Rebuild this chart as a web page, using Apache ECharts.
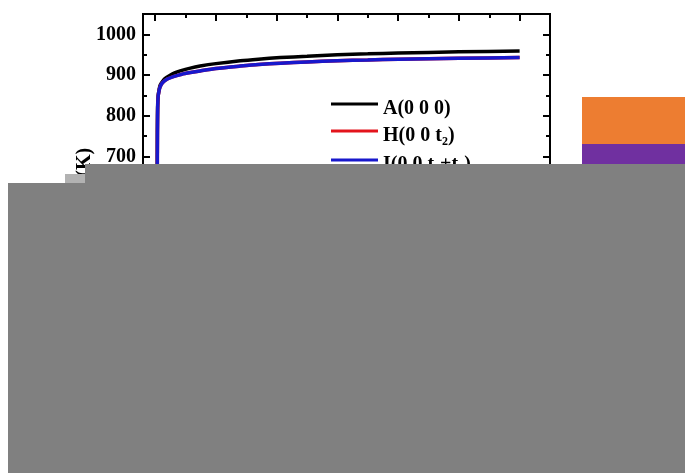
<!DOCTYPE html>
<html>
<head>
<meta charset="utf-8">
<script src="https://cdn.jsdelivr.net/npm/echarts@6/dist/echarts.min.js"></script>
<style>
  html, body { margin: 0; padding: 0; background: #fff; }
  #chart { width: 685px; height: 473px; }
</style>
</head>
<body>
<div id="chart"></div>
<script>
  // x in arbitrary units (its labels are covered in the picture), y in K
  var seriesNames = ['A(0 0 0)', 'H(0 0 t2)', 'I(0 0 t1+t2)'];
  var curveA = [[1.6, 300], [1.7, 600], [1.8, 760], [2.0, 820], [2.5, 850], [3.3, 865], [4.1, 875], [6, 884], [8, 891], [12, 899], [16, 905], [20.6, 910], [29, 917], [37, 922], [50, 928], [70, 935], [85, 939], [103, 943], [125, 946], [150, 950], [175, 952], [200, 954], [250, 957], [300, 959]];
  var curveH = [[1.6, 300], [1.8, 700], [2.0, 800], [2.3, 840], [3, 858], [4, 870], [6, 881], [10, 890], [15, 896], [22, 902], [29, 906], [37, 910], [50, 916], [70, 922], [85, 926], [103, 929], [125, 932], [150, 935], [175, 937], [200, 939], [250, 941], [300, 943]];
  var curveI = [[1.6, 300], [1.8, 700], [2.0, 800], [2.3, 840], [3, 858], [4, 870], [6, 881], [10, 890], [15, 896], [22, 902], [29, 906], [37, 910], [50, 916], [70, 922], [85, 926], [103, 929], [125, 932], [150, 935], [175, 937], [200, 939], [250, 941], [300, 943]];
  var xMajorTicks = [0, 50, 100, 150, 200, 250, 300];
  var xMinorTicks = [25, 75, 125, 175, 225, 275];
  var yMajorTicks = [300, 400, 500, 600, 700, 800, 900, 1000];
  var yMinorTicks = [350, 450, 550, 650, 750, 850, 950];

  var font = '"Liberation Serif", "Times New Roman", serif';
  var myChart = echarts.init(document.getElementById('chart'));

  function yAxisOf(pos, ticks, len, withLabel) {
    return {
      type: 'value', position: pos, min: 300, max: 1050, interval: 100,
      axisLine: { show: false, onZero: false },
      axisTick: { show: true, inside: true, length: len, customValues: ticks, lineStyle: { color: '#000', width: 2 } },
      axisLabel: {
        show: withLabel, showMaxLabel: false, margin: 7, color: '#000', fontFamily: font, fontWeight: 'bold', fontSize: 20,
        formatter: function (v) { return String(v); }
      },
      splitLine: { show: false }
    };
  }
  function topAxis(ticks, len) {
    return {
      type: 'value', position: 'top', min: -10, max: 325,
      axisLine: { show: false, onZero: false },
      axisTick: { show: true, inside: true, length: len, customValues: ticks, lineStyle: { color: '#000', width: 2 } },
      axisLabel: { show: false },
      splitLine: { show: false }
    };
  }
  function legendAt(name, top, fmt) {
    return {
      data: [name], left: 331, top: top, orient: 'vertical', padding: 0,
      icon: 'rect', itemWidth: 47, itemHeight: 3, itemGap: 0, selectedMode: false,
      formatter: function () { return fmt; },
      textStyle: {
        color: '#000', fontFamily: font, fontWeight: 'bold', fontSize: 20, padding: [10, 0, 0, 0],
        rich: { sub: { fontFamily: font, fontWeight: 'bold', fontSize: 12, verticalAlign: 'bottom', padding: [12, 0, 0, 0] } }
      }
    };
  }

  var option = {
    animation: false,
    backgroundColor: '#fff',
    grid: { left: 143, top: 14, right: 135, bottom: 154, show: true, borderColor: '#000', borderWidth: 2, backgroundColor: 'transparent' },
    xAxis: [
      { type: 'value', position: 'bottom', min: -10, max: 325, axisLine: { show: false, onZero: false }, axisTick: { show: false }, axisLabel: { show: false }, splitLine: { show: false } },
      topAxis(xMajorTicks, 7),
      topAxis(xMinorTicks, 4)
    ],
    yAxis: [
      Object.assign(yAxisOf('left', yMajorTicks, 7, true), {
        name: 'T (K)', nameLocation: 'middle', nameGap: 48, nameRotate: 90, nameMoveOverlap: false,
        nameTextStyle: { color: '#000', fontFamily: font, fontWeight: 'bold', fontSize: 20, padding: [0, 10, 0, 0] }
      }),
      yAxisOf('left', yMinorTicks, 4, false),
      yAxisOf('right', yMajorTicks, 7, false),
      yAxisOf('right', yMinorTicks, 4, false)
    ],
    legend: [
      legendAt(seriesNames[0], 99, 'A(0 0 0)'),
      legendAt(seriesNames[1], 126, 'H(0 0 t{sub|2})'),
      legendAt(seriesNames[2], 155, 'I(0 0 t{sub|1}+t{sub|2})')
    ],
    series: [
      { name: seriesNames[0], type: 'line', xAxisIndex: 0, yAxisIndex: 0, data: curveA, symbol: 'none', smooth: 0.2, lineStyle: { color: '#000', width: 3.5 }, itemStyle: { color: '#000' } },
      { name: seriesNames[1], type: 'line', xAxisIndex: 0, yAxisIndex: 0, data: curveH, symbol: 'none', smooth: 0.2, lineStyle: { color: '#e3141c', width: 3.5 }, itemStyle: { color: '#e3141c' } },
      { name: seriesNames[2], type: 'line', xAxisIndex: 0, yAxisIndex: 0, data: curveI, symbol: 'none', smooth: 0.2, lineStyle: { color: '#1818cc', width: 3.5 }, itemStyle: { color: '#1818cc' } }
    ],
    graphic: [
      { type: 'rect', z: 100, shape: { x: 582, y: 97, width: 103, height: 47 }, style: { fill: '#ed7d31' } },
      { type: 'rect', z: 100, shape: { x: 582, y: 144, width: 103, height: 20 }, style: { fill: '#7030a0' } },
      { type: 'rect', z: 100, shape: { x: 85, y: 164, width: 600, height: 19 }, style: { fill: '#808080' } },
      { type: 'rect', z: 100, shape: { x: 65, y: 174, width: 20, height: 9 }, style: { fill: '#b2b2b2' } },
      { type: 'rect', z: 100, shape: { x: 8, y: 183, width: 677, height: 290 }, style: { fill: '#808080' } }
    ]
  };
  myChart.setOption(option);
</script>
</body>
</html>
